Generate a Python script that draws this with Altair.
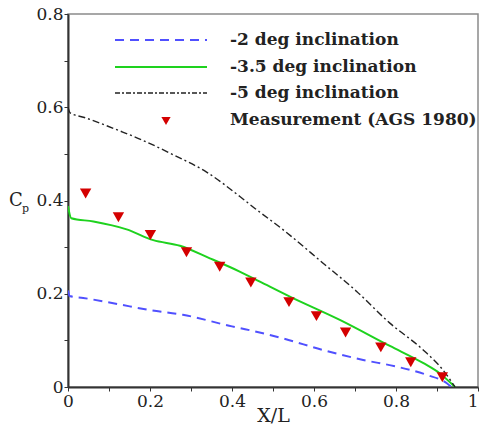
import altair as alt
import pandas as pd

# Pressure coefficient along the body, three inclinations
x_neg2 = [0, 0.004, 0.037, 0.12, 0.2, 0.28, 0.4, 0.432, 0.525, 0.623, 0.72, 0.80, 0.875, 0.924, 0.935]
cp_neg2 = [0.207, 0.195, 0.191, 0.178, 0.165, 0.155, 0.13, 0.124, 0.104, 0.079, 0.058, 0.044, 0.026, 0.008, 0.0]

x_neg35 = [0, 0.008, 0.062, 0.143, 0.208, 0.273, 0.346, 0.42, 0.468, 0.541, 0.663, 0.785, 0.867, 0.907, 0.944]
cp_neg35 = [0.388, 0.362, 0.355, 0.338, 0.315, 0.303, 0.276, 0.247, 0.226, 0.194, 0.144, 0.088, 0.051, 0.029, 0.0]

x_neg5 = [0, 0.005, 0.04, 0.13, 0.18, 0.257, 0.338, 0.42, 0.456, 0.525, 0.623, 0.704, 0.785, 0.867, 0.915, 0.944]
cp_neg5 = [0.60, 0.588, 0.578, 0.548, 0.53, 0.498, 0.461, 0.408, 0.383, 0.337, 0.265, 0.205, 0.137, 0.079, 0.036, 0.0]

# Measured values (AGS 1980)
meas_x = [0.043, 0.123, 0.201, 0.289, 0.37, 0.446, 0.539, 0.606, 0.677, 0.763, 0.836, 0.913]
meas_cp = [0.415, 0.364, 0.326, 0.289, 0.258, 0.224, 0.182, 0.152, 0.117, 0.085, 0.053, 0.021]

legend_labels = ["-2 deg inclination", "-3.5 deg inclination", "-5 deg inclination",
                 "Measurement (AGS 1980)"]
tick_values = [0, 0.1, 0.2, 0.3, 0.4, 0.5, 0.6, 0.7, 0.8, 0.9, 1.0]
y_tick_values = [0, 0.1, 0.2, 0.3, 0.4, 0.5, 0.6, 0.7, 0.8]

FONT = "DejaVu Serif"
TXT = "#222222"
BLUE = "#5050ff"
GREEN = "#1ed21e"
BLACK = "#222222"
RED = "#d40000"

label_expr = "round(datum.value * 10) % 2 == 0 ? format(datum.value, '~g') : ''"

x_scale = alt.Scale(domain=[0, 1], nice=False, zero=False)
y_scale = alt.Scale(domain=[0, 0.8], nice=False, zero=False)

x_axis = alt.Axis(values=tick_values, labelExpr=label_expr, title="X/L",
                  titlePadding=-3, titleFontSize=19, labelPadding=2,
                  labelAlign={"condition": {"test": "datum.value == 1", "value": "right"},
                              "value": "center"})
y_axis = alt.Axis(values=y_tick_values, labelExpr=label_expr, title=None,
                  labelPadding=1)


def curve(xs, ys, color, dash, width):
    df = pd.DataFrame({"x": xs, "cp": ys, "i": range(len(xs))})
    kw = dict(color=color, strokeWidth=width, clip=True, interpolate="monotone")
    if dash:
        kw["strokeDash"] = dash
    return alt.Chart(df).mark_line(**kw).encode(
        x=alt.X("x:Q", scale=x_scale, axis=x_axis),
        y=alt.Y("cp:Q", scale=y_scale, axis=y_axis),
        order="i:O",
    )


line2 = curve(x_neg2, cp_neg2, BLUE, [9, 6], 2)
line35 = curve(x_neg35, cp_neg35, GREEN, None, 2)
line5 = curve(x_neg5, cp_neg5, BLACK, [7, 3, 2, 3], 1.4)

meas = alt.Chart(pd.DataFrame({"x": meas_x, "cp": meas_cp})).mark_point(
    shape="triangle-down", filled=True, color=RED, size=130, opacity=1
).encode(
    x=alt.X("x:Q", scale=x_scale, axis=x_axis),
    y=alt.Y("cp:Q", scale=y_scale, axis=y_axis),
)

# Legend, drawn inside the plot area
one = pd.DataFrame({"k": [0]})
leg_rows = [26, 53, 79, 106]
sym_x0, sym_x1, txt_x = 47, 139, 162


def leg_rule(row, color, dash, width):
    kw = dict(color=color, strokeWidth=width)
    if dash:
        kw["strokeDash"] = dash
    return alt.Chart(one).mark_rule(**kw).encode(
        x=alt.value(sym_x0), x2=alt.value(sym_x1), y=alt.value(row)
    )


leg_lines = [
    leg_rule(leg_rows[0], BLUE, [9, 6], 2),
    leg_rule(leg_rows[1], GREEN, None, 2),
    leg_rule(leg_rows[2], BLACK, [5, 2, 2, 2], 1.4),
]
leg_tri = alt.Chart(one).mark_point(
    shape="triangle-down", filled=True, color=RED, size=85, opacity=1
).encode(x=alt.value(98), y=alt.value(leg_rows[3] + 1))

leg_text = alt.Chart(pd.DataFrame({"label": legend_labels, "row": leg_rows})).mark_text(
    align="left", baseline="middle", font=FONT, fontSize=17, fontWeight="bold", color=TXT
).encode(x=alt.value(txt_x), y=alt.Y("row:Q", scale=None), text="label:N")

# C_p axis label with subscript
cp_c = alt.Chart(one).mark_text(
    align="left", baseline="middle", font=FONT, fontSize=18, color=TXT, text="C"
).encode(x=alt.value(-59), y=alt.value(187))
cp_p = alt.Chart(one).mark_text(
    align="left", baseline="middle", font=FONT, fontSize=11, color=TXT, text="p"
).encode(x=alt.value(-46), y=alt.value(195))

chart = alt.layer(
    line2, line35, line5, meas, *leg_lines, leg_tri, leg_text, cp_c, cp_p
).properties(
    width=410, height=373,
    autosize=alt.AutoSizeParams(type="none"),
    padding={"left": 68, "top": 14, "right": 2, "bottom": 42},
    background="white",
).configure_view(
    stroke="#8a8a8a", strokeWidth=1.5
).configure_axis(
    grid=False,
    domainColor="#333333", domainWidth=2,
    tickColor="#333333", tickSize=4, tickWidth=1,
    labelFont=FONT, labelFontSize=17, labelColor=TXT,
    titleFont=FONT, titleColor=TXT, titleFontWeight="normal",
    labelFlush=False, labelOverlap=False,
)

chart.save("out.html", embed_options={"renderer": "svg", "actions": False})
